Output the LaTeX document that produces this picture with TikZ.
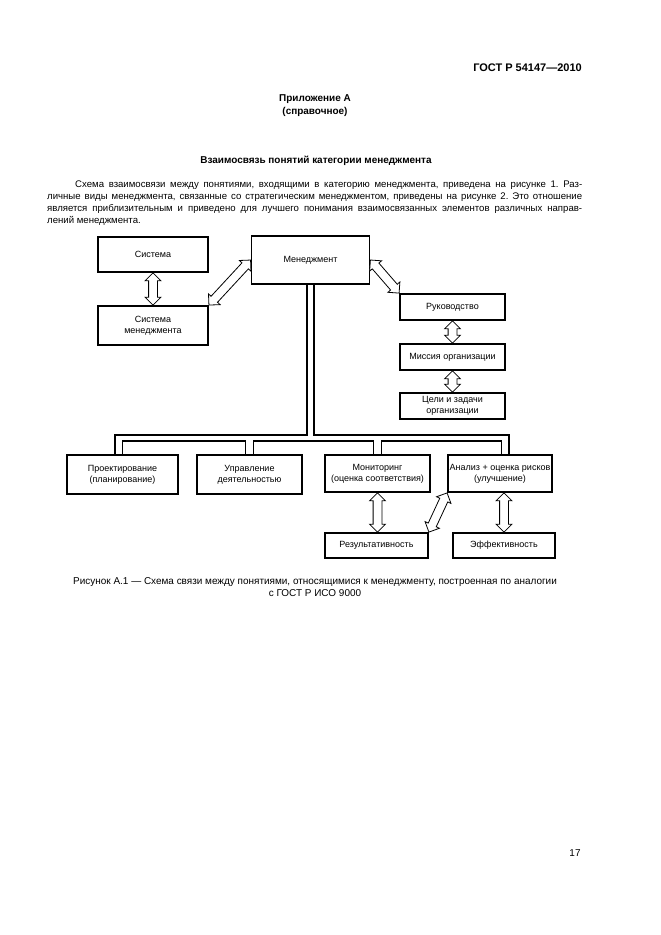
\documentclass[tikz,border=0pt]{standalone}
\usepackage{fontspec}
\setmainfont{Liberation Sans}
\usetikzlibrary{shapes.arrows,calc}
\frenchspacing
\tikzset{
  box/.style={draw, line width=1.8pt, align=center, inner sep=1pt, font=\fontsize{9}{11}\selectfont},
  dblarr/.style={double arrow, draw, fill=white, line width=0.8pt, inner xsep=0pt, inner ysep=4pt,
    double arrow head extend=3.5pt, double arrow tip angle=90},
  pipe/.style={line width=1.6pt}
}
\newcommand{\dblarrow}[2]{%
  \path let \p1=($(#2)-(#1)$), \n1={veclen(\x1,\y1)} in
    (#1) -- (#2) node[midway, sloped, dblarr, minimum height=\n1] {};}
\begin{document}
\begin{tikzpicture}[x=1pt,y=-1pt]
\fill[white] (0,0) rectangle (661,935);
\useasboundingbox (0,0) rectangle (661,935);
% Шапка и текст
\node[anchor=base east, inner sep=0, font=\bfseries\fontsize{11}{13}\selectfont] (gost) at (582,71) {ГОСТ Р 54147—2010};
\node[anchor=base, inner sep=0, font=\bfseries\fontsize{9.96}{12}\selectfont] (pril) at (315,101) {Приложение А};
\node[anchor=base, inner sep=0, font=\bfseries\fontsize{9.96}{12}\selectfont] (spr) at (315,114) {(справочное)};
\node[anchor=base, inner sep=0, font=\bfseries\fontsize{9.96}{12}\selectfont] (title) at (316,163) {Взаимосвязь понятий категории менеджмента};
\node[anchor=north west, inner sep=0, text width=535pt, align=justify, font=\fontsize{9.6}{11.7}\selectfont] (txt) at (47,181)
  {\parindent=0pt\hyphenpenalty=10000\hspace*{28pt}Схема взаимосвязи между понятиями, входящими в категорию менеджмента, приведена на рисунке~1. Раз-\linebreak
   личные виды менеджмента, связанные со стратегическим менеджментом, приведены на рисунке~2. Это отношение\linebreak
   является приблизительным и приведено для лучшего понимания взаимосвязанных элементов различных направ-\linebreak
   лений менеджмента.};
% Блоки
\node[box, minimum width=110pt, minimum height=35pt] (sys) at (153,254.5) {Система};
\node[box, minimum width=110pt, minimum height=39pt] (sysm) at (153,325.5) {Система\\менеджмента};
\node[box, minimum width=118pt, minimum height=48pt] (men) at (310.5,260) {Менеджмент};
\node[box, minimum width=105pt, minimum height=26pt] (ruk) at (452.5,307) {Руководство};
\node[box, minimum width=105pt, minimum height=26pt] (mis) at (452.5,357) {Миссия организации};
\node[box, minimum width=105pt, minimum height=26pt] (cel) at (452.5,406) {Цели и задачи\\организации};
\node[box, minimum width=111pt, minimum height=39pt] (pro) at (122.5,474.5) {Проектирование\\(планирование)};
\node[box, minimum width=105pt, minimum height=39pt] (upr) at (249.5,474.5) {Управление\\деятельностью};
\node[box, minimum width=105pt, minimum height=37pt] (mon) at (377.5,473.5) {Мониторинг\\(оценка соответствия)};
\node[box, minimum width=104pt, minimum height=37pt] (an) at (500,473.5) {Анализ + оценка рисков\\(улучшение)};
\node[box, minimum width=103pt, minimum height=25pt] (res) at (376.5,545.5) {Результативность};
\node[box, minimum width=102pt, minimum height=25pt] (eff) at (504,545.5) {Эффективность};
% Шина
\draw[pipe] ([xshift=-3.3pt]men.south) -- ++(0,150) -| ([xshift=-7.5pt]pro.north);
\draw[pipe] ([xshift=3.3pt]men.south) -- ++(0,150) -| ([xshift=9pt]an.north);
\draw[pipe] (pro.north) -- ++(0,-13) -| ([xshift=-4pt]upr.north);
\draw[pipe] ([xshift=4pt]upr.north) -- ++(0,-13) -| ([xshift=-4pt]mon.north);
\draw[pipe] ([xshift=4pt]mon.north) -- ++(0,-13) -| ([xshift=1.5pt]an.north);
% Стрелки
\dblarrow{sys.south}{sysm.north}
\dblarrow{sysm.north east}{men.west}
\dblarrow{men.east}{ruk.north west}
\dblarrow{ruk.south}{mis.north}
\dblarrow{mis.south}{cel.north}
\dblarrow{mon.south}{mon.south |- res.north}
\dblarrow{res.north east}{an.south west}
\dblarrow{eff.north |- an.south}{eff.north}
% Подпись
\node[anchor=base, inner sep=0, font=\fontsize{9.96}{12}\selectfont] (cap1) at (315,584) {Рисунок А.1 — Схема связи между понятиями, относящимися к менеджменту, построенная по аналогии};
\node[anchor=base, inner sep=0, font=\fontsize{9.96}{12}\selectfont] (cap2) at (315,596) {с ГОСТ Р ИСО 9000};
\node[anchor=base, inner sep=0, font=\fontsize{9.96}{12}\selectfont] (page) at (575,856) {17};
\end{tikzpicture}
\end{document}
